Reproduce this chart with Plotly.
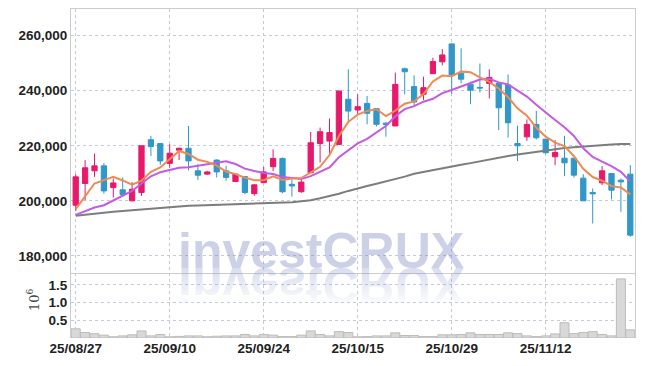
import plotly.graph_objects as go

dates = ["25/08/27","25/08/28","25/08/29","25/09/01","25/09/02","25/09/03","25/09/04","25/09/05","25/09/08","25/09/09",
         "25/09/10","25/09/11","25/09/12","25/09/15","25/09/16","25/09/17","25/09/18","25/09/19","25/09/22","25/09/23",
         "25/09/24","25/09/25","25/09/26","25/09/29","25/09/30","25/10/01","25/10/02","25/10/10","25/10/13","25/10/14",
         "25/10/15","25/10/16","25/10/17","25/10/20","25/10/21","25/10/22","25/10/23","25/10/24","25/10/27","25/10/28",
         "25/10/29","25/10/30","25/10/31","25/11/03","25/11/04","25/11/05","25/11/06","25/11/07","25/11/10","25/11/11",
         "25/11/12","25/11/13","25/11/14","25/11/17","25/11/18","25/11/19","25/11/20","25/11/21","25/11/24","25/11/25"]

open_ = [198400,206300,210900,212700,204800,204000,200000,203000,222200,220800,
         213600,218400,219100,210900,209700,214800,210900,207000,208800,202600,
         206600,212400,215400,206000,203300,210200,220800,221700,220500,236900,
         233000,235400,233500,228200,227200,248000,241500,238700,246200,250500,
         257000,246300,242400,241200,242650,242650,242050,220840,223260,227750,
         222420,216000,215500,215500,208240,203030,206540,209930,207510,209690]
high = [209700,214800,217200,213700,208100,208500,206800,220000,223600,220800,
        220600,219300,227200,213300,210900,215100,212700,209700,208800,206000,
        212300,218700,215700,207800,207800,225000,226600,229900,240000,247800,
        238700,238100,233500,228600,246600,248400,245600,245100,252000,255100,
        257200,255400,243300,249900,247750,242650,245900,227300,229570,232700,
        222420,222050,223630,215500,209690,204480,212600,209930,208110,212960]
low = [196300,200200,208700,202600,201200,201400,199800,201800,216300,213100,
       212100,214800,211100,207600,209400,208500,207300,207000,202400,201800,
       206600,210800,202700,201500,202900,210200,213900,216900,220300,229000,
       231400,227800,227000,223300,227200,238700,234700,236600,246200,249200,
       238800,242700,235100,239400,237200,225700,223000,214400,221800,222300,
       217200,212960,208960,208480,200000,191750,205690,200480,196000,186900]
close = [208700,212000,212700,203600,206500,202200,204200,220000,219700,214500,
         217300,219100,214500,209300,210500,210500,208500,209700,203000,205800,
         210500,215400,203300,205400,206800,221100,225100,224800,239900,232600,
         234200,231800,227800,227700,242300,246900,235900,241100,250600,253000,
         245800,244200,240200,241000,244840,233800,228350,220000,227750,222900,
         217450,217570,213800,209330,200000,202540,210900,203870,206900,187510]

ma5 = [196950,201800,206300,207500,208700,207400,205840,207300,210520,212120,
       215140,218120,217020,214940,214140,212780,210660,209700,208440,207500,
       207500,208880,207600,208080,208280,210400,212340,216640,223540,228700,
       231320,232660,233260,230820,232760,235300,236120,238780,243360,245500,
       245280,246940,246760,244830,243200,240800,237630,233590,230950,226560,
       223290,221130,219890,216210,211630,208650,207310,205330,204840,202340]
ma10 = [194900,196300,197550,198400,200200,201800,203600,206300,208900,210410,
        211270,211980,212160,212730,213130,213960,214390,213360,211690,210820,
        210140,209770,208650,208260,207890,208950,210610,212120,215810,218490,
        220860,222500,224950,227180,230730,233310,234390,236020,237090,239130,
        240290,241530,242770,244096,244350,243040,242285,240175,237890,234880,
        232045,229382,226742,223579,219095,215969,214224,212611,210526,206987]
ma60 = [194600,195000,195400,195700,196000,196300,196600,196900,197200,197500,
        197800,198000,198200,198300,198400,198500,198600,198700,198800,198900,
        199000,199100,199300,199500,199800,200200,200900,201700,202600,203600,
        204600,205400,206200,207000,207900,208800,209800,210500,211200,211900,
        212500,213100,213700,214400,215100,215700,216300,216800,217300,217900,
        218400,218800,219200,219500,219800,220100,220300,220500,220600,220600]

volume_m = [0.26,0.155,0.12,0.08,0.035,0.06,0.09,0.20,0.06,0.10,
            0.035,0.045,0.06,0.06,0.035,0.05,0.06,0.06,0.10,0.06,
            0.10,0.08,0.04,0.04,0.08,0.20,0.10,0.06,0.18,0.155,
            0.035,0.04,0.06,0.06,0.145,0.07,0.07,0.04,0.04,0.09,
            0.09,0.10,0.145,0.10,0.10,0.10,0.145,0.125,0.06,0.04,
            0.06,0.115,0.43,0.125,0.155,0.18,0.10,0.06,1.67,0.23]

price_ticks = [180000, 200000, 220000, 240000, 260000]
vol_ticks = [0.5, 1.0, 1.5]
vol_tick_text = ["0.5", "1.0", "1.5"]
x_tick_dates = [dates[i] for i in range(0, 60, 10)]

UP = "#e8186a"
DOWN = "#3097c9"
GRID = "#c5c9dc"
FONT = "Liberation Sans, Arial, sans-serif"

fig = go.Figure()
fig.add_trace(go.Bar(x=dates, y=volume_m, marker=dict(color="#d8d8d8", line=dict(color="#bcbcbc", width=1)),
                     xaxis="x", yaxis="y2", showlegend=False, hoverinfo="skip"))
fig.add_trace(go.Candlestick(x=dates, open=open_, high=high, low=low, close=close,
                             increasing=dict(line=dict(color=UP, width=1), fillcolor=UP),
                             decreasing=dict(line=dict(color=DOWN, width=1), fillcolor=DOWN),
                             xaxis="x2", yaxis="y", showlegend=False))
fig.add_trace(go.Scatter(x=dates, y=ma60, mode="lines", line=dict(color="#7d7d7d", width=2), xaxis="x2", yaxis="y", showlegend=False))
fig.add_trace(go.Scatter(x=dates, y=ma10, mode="lines", line=dict(color="#c45ae6", width=2), xaxis="x2", yaxis="y", showlegend=False))
fig.add_trace(go.Scatter(x=dates, y=ma5, mode="lines", line=dict(color="#ef8a50", width=2), xaxis="x2", yaxis="y", showlegend=False))

tickfont = dict(family=FONT, size=13.5, color="#222222", weight="bold")
fig.update_layout(
    width=645, height=366,
    margin=dict(l=71, r=10, t=9, b=28, autoexpand=False),
    paper_bgcolor="white", plot_bgcolor="white",
    showlegend=False,
    boxgap=0.2,
    xaxis=dict(domain=[0, 1], anchor="y2", type="category", range=[-0.5, 59.5], automargin=False,
               tickmode="array", tickvals=x_tick_dates, ticktext=x_tick_dates,
               showgrid=True, gridcolor=GRID, griddash="dot", gridwidth=1,
               showline=False, ticks="", tickfont=tickfont, rangeslider=dict(visible=False)),
    xaxis2=dict(domain=[0, 1], anchor="y", matches="x", type="category", automargin=False,
                tickmode="array", tickvals=x_tick_dates, showticklabels=False,
                showgrid=True, gridcolor=GRID, griddash="dot", gridwidth=1,
                showline=True, mirror=True, linecolor="#cccccc", linewidth=1, ticks="",
                rangeslider=dict(visible=False)),
    yaxis=dict(domain=[0.199, 1], range=[173940, 269700], tickmode="array", tickvals=price_ticks, automargin=False,
               tickformat=",", showgrid=True, gridcolor=GRID, griddash="dot", gridwidth=1,
               showline=True, mirror=True, linecolor="#cccccc", linewidth=1, ticks="", zeroline=False,
               tickfont=tickfont),
    yaxis2=dict(domain=[0, 0.199], range=[0, 1.85], tickmode="array", tickvals=vol_ticks, ticktext=vol_tick_text,
                automargin=False, showgrid=True, gridcolor=GRID, griddash="dot", gridwidth=1,
                showline=True, mirror=True, linecolor="#cccccc", linewidth=1, ticks="", zeroline=False,
                tickfont=tickfont),
    bargap=0.04,
)

WM_FONT = dict(family="Liberation Sans, Arial, sans-serif", size=50, color="rgba(120,135,195,0.38)", weight="bold")
fig.add_annotation(text="investCRUX", xref="paper", yref="paper", x=0.444, y=0.173,
                   xanchor="center", yanchor="bottom", showarrow=False, font=WM_FONT)
fig.add_annotation(text="investCRUX", xref="paper", yref="paper", x=0.444, y=0.069,
                   xanchor="center", yanchor="bottom", showarrow=False, font=WM_FONT)
fig.add_annotation(text="10<sup>6</sup>", xref="paper", yref="paper", x=-0.067, y=0.116,
                   xanchor="center", yanchor="middle", textangle=-90, showarrow=False,
                   font=dict(family="DejaVu Serif, serif", size=13, color="#444444"))

post = """
(function(){
  document.documentElement.style.margin = '0';
  document.body.style.margin = '0';
  document.body.style.padding = '0';
  var gd = document.querySelector('.plotly-graph-div');
  function flipWM(){
    var anns = gd.querySelectorAll('g.annotation');
    if (anns.length < 2) return;
    var t = anns[1].querySelector('text');
    var svg = t.ownerSVGElement;
    var ns = 'http://www.w3.org/2000/svg';
    if (!document.getElementById('wmgrad')) {
      var defs = document.createElementNS(ns, 'defs');
      var lg = document.createElementNS(ns, 'linearGradient');
      lg.setAttribute('id', 'wmgrad');
      lg.setAttribute('x1', '0'); lg.setAttribute('y1', '0');
      lg.setAttribute('x2', '0'); lg.setAttribute('y2', '1');
      var s1 = document.createElementNS(ns, 'stop');
      s1.setAttribute('offset', '0.1'); s1.setAttribute('stop-color', 'rgb(120,135,195)'); s1.setAttribute('stop-opacity', '0');
      var s2 = document.createElementNS(ns, 'stop');
      s2.setAttribute('offset', '0.8'); s2.setAttribute('stop-color', 'rgb(120,135,195)'); s2.setAttribute('stop-opacity', '0.28');
      lg.appendChild(s1); lg.appendChild(s2); defs.appendChild(lg); svg.insertBefore(defs, svg.firstChild);
    }
    t.style.transformBox = 'fill-box';
    t.style.transformOrigin = '50% 50%';
    t.style.transform = 'scaleY(-1)';
    t.style.fill = 'url(#wmgrad)';
    t.style.fillOpacity = '1';
  }
  flipWM();
  gd.on('plotly_afterplot', flipWM);
})();
"""

fig.write_html("out.html", post_script=post, config={"displayModeBar": False})
